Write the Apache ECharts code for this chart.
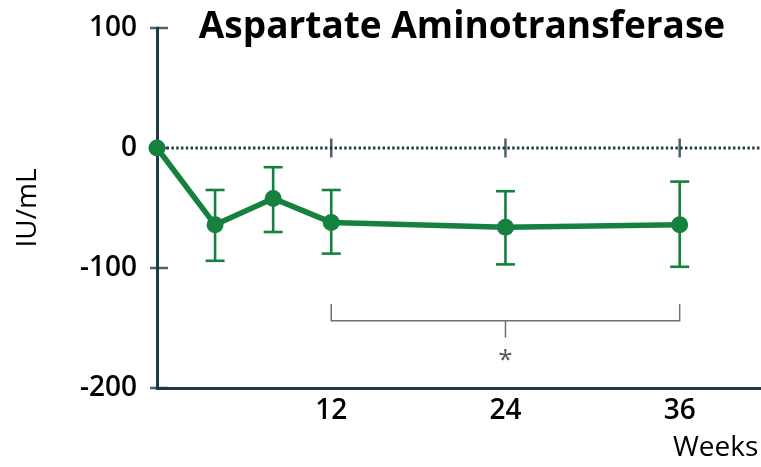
<!DOCTYPE html>
<html><head><meta charset="utf-8">
<script src="https://cdn.jsdelivr.net/npm/echarts@6/dist/echarts.min.js"></script>
<style>html,body{margin:0;padding:0;background:#fff}#c{width:761px;height:467px}</style>
</head><body><div id="c"></div>
<script>
const weeks = [0, 4, 8, 12, 24, 36];
const meanChange = [0, -64, -42, -62, -66, -64];
const upperErr = [null, -35, -16, -35, -36, -28];
const lowerErr = [null, -94, -70, -88, -97, -99];
const xTickWeeks = [12, 24, 36];
const yTickValues = [100, 0, -100, -200];
const bracketWeeks = [12, 24, 36];
const bracketLevels = { top: -130, bar: -144, stem: -158, star: -177 };

const green = '#16803f';
const dark = '#1d3b45';
const font = '"Open Sans", "Noto Sans", sans-serif';

const chart = echarts.init(document.getElementById('c'));
chart.setOption({
  animation: false,
  title: {
    text: 'Aspartate Aminotransferase',
    left: 457, top: 4, textAlign: 'center',
    textStyle: { fontFamily: font, fontSize: 37, fontWeight: 'bold', color: '#000' }
  },
  grid: { left: 157, right: 0, top: 28, bottom: 79 },
  xAxis: {
    type: 'value', min: 0, max: 41.6, interval: 12,
    axisLine: { onZero: false, lineStyle: { color: dark, width: 3 } },
    axisTick: { show: false },
    splitLine: { show: false },
    axisLabel: {
      fontFamily: font, fontSize: 28, fontWeight: 600, color: '#000', margin: 9,
      showMaxLabel: false, showMinLabel: true,
      formatter: v => (xTickWeeks.indexOf(v) >= 0 ? String(v) : '')
    }
  },
  yAxis: {
    type: 'value', min: -200, max: 100, interval: 100,
    name: 'IU/mL', nameLocation: 'middle', nameGap: 115,
    nameTextStyle: { fontFamily: font, fontSize: 28, color: '#000' },
    axisLine: { onZero: false, lineStyle: { color: dark, width: 3 } },
    axisTick: { show: false },
    splitLine: { show: false },
    axisLabel: { fontFamily: font, fontSize: 28, fontWeight: 600, color: '#000', margin: 20, padding: [6, 0, 0, 0] }
  },
  graphic: [{
    type: 'text', left: 673, top: 434,
    style: { text: 'Weeks', font: '28px ' + font, fill: '#000' }
  }],
  series: [
    {
      type: 'line', data: [[0, 0], [41.6, 0]], symbol: 'none', silent: true, z: 1,
      lineStyle: { color: dark, width: 2.8, type: [2.4, 2.4] }
    },
    {
      type: 'scatter', z: 2, silent: true,
      data: xTickWeeks.map(w => [w, 0]),
      symbol: 'rect', symbolSize: [2.5, 19],
      itemStyle: { color: dark }
    },
    {
      type: 'scatter', z: 2, silent: true,
      data: yTickValues.map(v => [0, v]),
      symbol: 'rect', symbolSize: [18, 2.5], symbolOffset: [2, 0],
      itemStyle: { color: dark }
    },
    {
      type: 'custom', z: 3, silent: true,
      data: weeks.map((w, i) => [w, upperErr[i], lowerErr[i]]).filter(d => d[1] !== null),
      renderItem: function (params, api) {
        const x = api.value(0);
        const top = api.coord([x, api.value(1)]);
        const bot = api.coord([x, api.value(2)]);
        const hw = 9.5;
        const st = { stroke: green, lineWidth: 2.6 };
        return {
          type: 'group', children: [
            { type: 'line', shape: { x1: top[0], y1: top[1], x2: bot[0], y2: bot[1] }, style: st },
            { type: 'line', shape: { x1: top[0] - hw, y1: top[1], x2: top[0] + hw, y2: top[1] }, style: st },
            { type: 'line', shape: { x1: bot[0] - hw, y1: bot[1], x2: bot[0] + hw, y2: bot[1] }, style: st }
          ]
        };
      }
    },
    {
      type: 'line', z: 4, silent: true,
      data: weeks.map((w, i) => [w, meanChange[i]]),
      symbol: 'circle', symbolSize: 17,
      lineStyle: { color: green, width: 5.5 },
      itemStyle: { color: green }
    },
    {
      type: 'custom', z: 3, silent: true,
      data: [[bracketWeeks[0], bracketWeeks[1], bracketWeeks[2]]],
      renderItem: function (params, api) {
        const L = api.coord([api.value(0), bracketLevels.top]);
        const Lb = api.coord([api.value(0), bracketLevels.bar]);
        const R = api.coord([api.value(2), bracketLevels.top]);
        const Rb = api.coord([api.value(2), bracketLevels.bar]);
        const M = api.coord([api.value(1), bracketLevels.bar]);
        const Ms = api.coord([api.value(1), bracketLevels.stem]);
        const S = api.coord([api.value(1), bracketLevels.star]);
        const st = { stroke: '#6d7173', lineWidth: 1.5, fill: null };
        return {
          type: 'group', children: [
            { type: 'polyline', shape: { points: [L, Lb, Rb, R] }, style: st },
            { type: 'line', shape: { x1: M[0], y1: M[1], x2: Ms[0], y2: Ms[1] }, style: st },
            { type: 'text', x: S[0], y: S[1], style: { text: '*', font: '26px ' + font, fill: '#555', align: 'center', verticalAlign: 'middle' } }
          ]
        };
      }
    }
  ]
});
</script></body></html>
